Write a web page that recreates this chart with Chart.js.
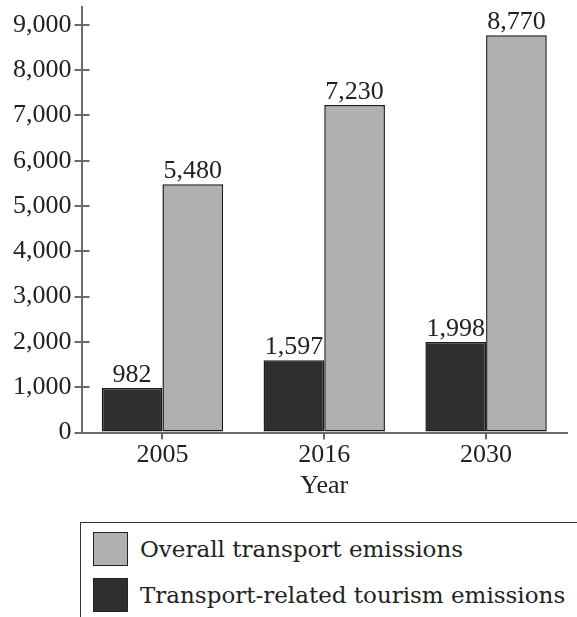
<!DOCTYPE html>
<html>
<head>
<meta charset="utf-8">
<script src="https://cdn.jsdelivr.net/npm/chart.js@4.4.0/dist/chart.umd.min.js"></script>
<style>
  html, body { margin: 0; padding: 0; background: #fff; }
  #wrap { position: relative; width: 577px; height: 617px; overflow: hidden; }
  #chartBox { position: absolute; left: 0; top: -12px; width: 577px; height: 514px; }
  #legend { position: absolute; left: 80px; top: 522px; width: 600px; height: 200px;
            border: 1.5px solid #333; box-sizing: border-box; }
  .item { position: absolute; left: 12px; height: 34px; display: flex; align-items: center;
          font-family: "DejaVu Serif", serif; font-size: 23px; color: #222; white-space: nowrap; }
  .sw { width: 35px; height: 34px; border: 1.5px solid #222; margin-right: 12px; box-sizing: border-box; }
</style>
</head>
<body>
<div id="wrap">
  <div id="chartBox"><canvas id="c"></canvas></div>
  <div id="legend"></div>
</div>
<script>
const categories = ["2005", "2016", "2030"];
const tourismValues = [982, 1597, 1998];
const overallValues = [5480, 7230, 8770];
const seriesNames = ["Transport-related tourism emissions", "Overall transport emissions"];
const yTicks = [0, 1000, 2000, 3000, 4000, 5000, 6000, 7000, 8000, 9000];
const xTitle = "Year";

const darkFill = "#2e2f31";
const lightFill = "#b0b0b0";
const axisColor = "#6a6a6a";
const serif = "'Liberation Serif', 'Times New Roman', serif";

const fmt = v => v.toLocaleString("en-US");

const valueLabels = {
  id: "valueLabels",
  afterDatasetsDraw(chart) {
    const ctx = chart.ctx;
    ctx.save();
    ctx.font = "26px " + serif;
    ctx.fillStyle = "#222";
    ctx.textAlign = "center";
    ctx.textBaseline = "alphabetic";
    chart.data.datasets.forEach((ds, di) => {
      const meta = chart.getDatasetMeta(di);
      meta.data.forEach((bar, i) => {
        ctx.fillText(fmt(ds.data[i]), bar.x, bar.y - 6);
      });
    });
    ctx.restore();
  }
};

const innerTicks = {
  id: "innerTicks",
  afterDraw(chart) {
    const ctx = chart.ctx;
    const y = chart.scales.y;
    const x0 = chart.chartArea.left;
    ctx.save();
    ctx.strokeStyle = axisColor;
    ctx.lineWidth = 2;
    yTicks.forEach(v => {
      const py = Math.round(y.getPixelForValue(v));
      ctx.beginPath();
      ctx.moveTo(x0, py);
      ctx.lineTo(x0 + 8, py);
      ctx.stroke();
    });
    ctx.restore();
  }
};

new Chart(document.getElementById("c"), {
  type: "bar",
  data: {
    labels: categories,
    datasets: [
      { label: seriesNames[0], data: tourismValues, backgroundColor: darkFill,
        borderColor: "#1a1a1a", borderWidth: 1.5, borderSkipped: false },
      { label: seriesNames[1], data: overallValues, backgroundColor: lightFill,
        borderColor: "#1a1a1a", borderWidth: 1.5, borderSkipped: false }
    ]
  },
  options: {
    responsive: true,
    maintainAspectRatio: false,
    animation: false,
    events: [],
    layout: { padding: { left: 10, right: 10, top: 7, bottom: 0 } },
    plugins: { legend: { display: false }, tooltip: { enabled: false } },
    datasets: { bar: { categoryPercentage: 0.75, barPercentage: 1.0 } },
    scales: {
      x: {
        offset: true,
        grid: { offset: false, drawOnChartArea: false, tickLength: 7, color: axisColor, lineWidth: 2 },
        border: { color: axisColor, width: 2 },
        ticks: { color: "#222", font: { family: serif, size: 26 }, padding: 0, maxRotation: 0 },
        title: { display: true, text: xTitle, color: "#222", font: { family: serif, size: 26 }, padding: { top: 0, bottom: 0 } }
      },
      y: {
        min: 0, max: 9400,
        afterBuildTicks(scale) { scale.ticks = yTicks.map(v => ({ value: v })); },
        grid: { drawOnChartArea: false, tickLength: 7, color: axisColor, lineWidth: 2 },
        border: { color: axisColor, width: 2 },
        ticks: { color: "#222", font: { family: serif, size: 26 }, padding: 3, callback: v => fmt(v) }
      }
    }
  },
  plugins: [valueLabels, innerTicks]
});

// Legend (order as in reference: overall first)
const legend = document.getElementById("legend");
[[seriesNames[1], lightFill, 9], [seriesNames[0], darkFill, 55]].forEach(([name, col, top]) => {
  const d = document.createElement("div");
  d.className = "item";
  d.style.top = top + "px";
  d.innerHTML = '<div class="sw" style="background:' + col + '"></div><span>' + name + '</span>';
  legend.appendChild(d);
});
</script>
</body>
</html>
